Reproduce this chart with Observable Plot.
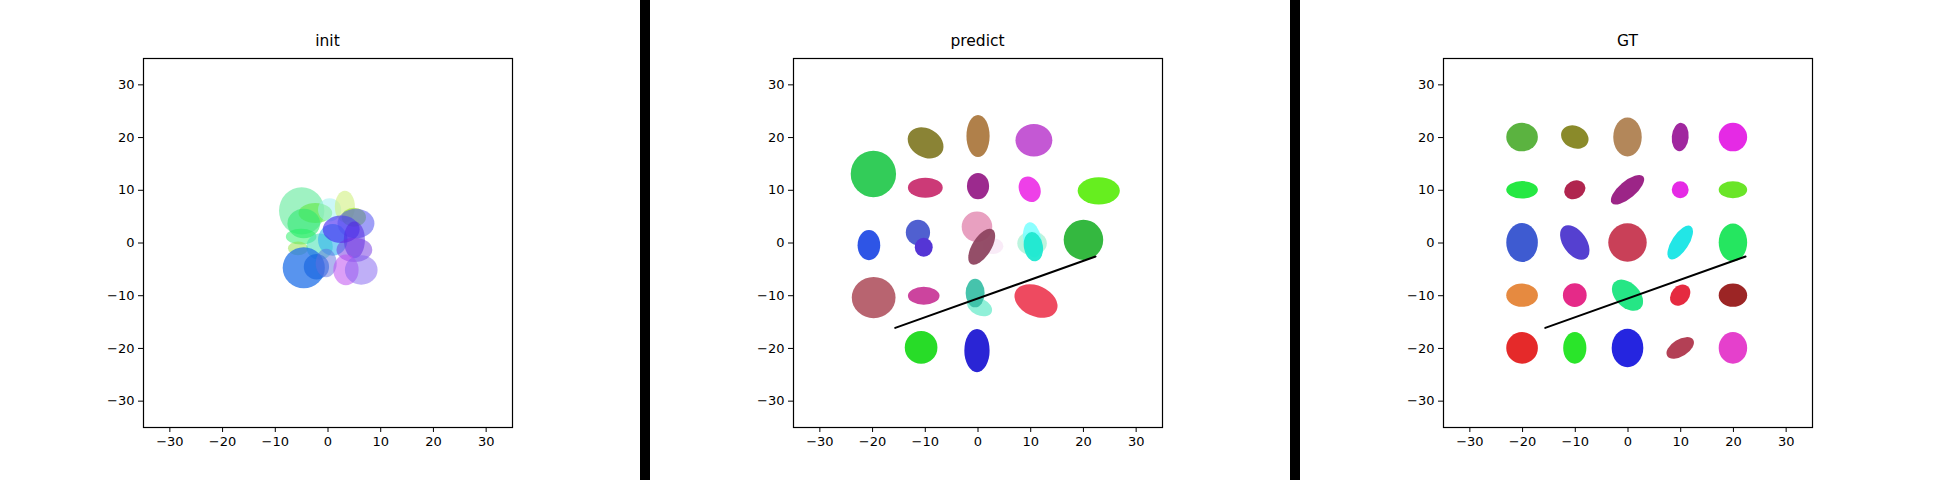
<!DOCTYPE html>
<html>
<head>
<meta charset="utf-8">
<script src="https://cdn.jsdelivr.net/npm/d3@7"></script>
<script src="https://cdn.jsdelivr.net/npm/@observablehq/plot@0.6"></script>
<style>
  body { margin: 0; background: #fff; }
  #wrap { position: relative; width: 1940px; height: 480px; font-family: "DejaVu Sans", sans-serif; }
  .panel { position: absolute; top: 0; }
  .sep { position: absolute; top: 0; width: 10px; height: 480px; background: #000; }
</style>
</head>
<body>
<div id="wrap"></div>
<script>
// ellipses: [x, y, rx, ry, angleDeg, color, opacity]
const initEllipses = [
  [-4.9, 6.0, 4.3, 4.5, 0, "#50e890", 0.55],
  [-2.3, 5.6, 3.2, 1.9, 0, "#60e840", 0.6],
  [0.4, 6.2, 2.2, 2.2, 0, "#a0f0f0", 0.55],
  [3.3, 6.8, 1.9, 3.0, 0, "#d0f080", 0.6],
  [5.0, 4.8, 2.3, 1.8, 0, "#a0e830", 0.7],
  [-4.5, 3.6, 3.1, 2.8, 0, "#30e870", 0.6],
  [-5.0, 1.1, 2.9, 1.5, 0, "#20f060", 0.5],
  [-5.6, -1.1, 1.9, 1.3, 0, "#90e040", 0.5],
  [-1.5, -0.8, 2.5, 2.5, 0, "#40e0b0", 0.55],
  [1.0, 0.5, 2.8, 3.0, 0, "#30b0f0", 0.6],
  [2.6, 2.5, 3.5, 2.6, 0, "#4020f0", 0.6],
  [5.4, 3.6, 3.5, 2.8, 0, "#5050f0", 0.55],
  [5.1, 0.5, 2.0, 3.5, 0, "#5020e0", 0.5],
  [5.1, -1.4, 3.4, 2.3, 0, "#7030e0", 0.5],
  [-4.5, -4.8, 4.0, 3.9, 0, "#2070e8", 0.75],
  [-2.1, -4.6, 2.4, 2.4, 0, "#1060e0", 0.6],
  [-0.25, -3.9, 2.0, 2.7, 0, "#6070e0", 0.5],
  [3.5, -5.2, 2.4, 2.9, 0, "#c050f0", 0.55],
  [6.4, -5.2, 3.1, 2.8, 0, "#8060f0", 0.5]
];

const predictEllipses = [
  [-19.75, 13.0, 4.3, 4.4, 0, "#33cc59", 1],
  [-9.85, 18.9, 3.6, 2.7, -30, "#8a8335", 1],
  [0.1, 20.2, 2.2, 4.0, 0, "#b0804a", 1],
  [10.7, 19.4, 3.5, 3.1, 0, "#c458d4", 1],
  [-9.9, 10.4, 3.3, 1.9, 0, "#cc3a77", 1],
  [0.1, 10.7, 2.1, 2.5, 0, "#9c2a8e", 1],
  [9.9, 10.1, 2.0, 2.5, 25, "#ee40e8", 1],
  [23.0, 9.8, 4.0, 2.6, 0, "#66ee1f", 1],
  [-20.6, -0.5, 2.15, 2.85, 0, "#2e55e6", 1],
  [-11.3, 1.9, 2.3, 2.4, 0, "#5060d0", 1],
  [-10.2, -0.9, 1.7, 1.8, 0, "#5535d5", 1],
  [-0.1, 3.0, 2.9, 2.9, 0, "#e8a0c0", 1],
  [2.9, -0.7, 2.0, 1.5, 0, "#e8b0e0", 0.25],
  [0.8, -0.8, 3.85, 1.8, 58, "#8e4460", 0.95],
  [10.35, -0.15, 2.8, 2.3, 0, "#a0f0d0", 0.7],
  [10.4, 0.5, 1.7, 3.4, 10, "#80ffff", 0.9],
  [10.6, -0.8, 1.8, 2.8, 10, "#1ee8d0", 0.95],
  [20.1, 0.5, 3.75, 3.8, 0, "#34b840", 1],
  [-19.7, -10.45, 4.15, 3.9, 0, "#b86470", 1],
  [-10.2, -10.1, 3.0, 1.7, 0, "#cc449e", 1],
  [0.4, -12.2, 2.5, 1.6, -25, "#90f0d8", 1],
  [-0.45, -9.6, 1.8, 2.7, 0, "#3cc0a8", 0.95],
  [11.1, -11.1, 4.3, 2.9, -25, "#ee4a60", 1],
  [-10.7, -19.9, 3.1, 3.1, 0, "#28dc28", 1],
  [-0.1, -20.5, 2.4, 4.1, 0, "#2a25d5", 1]
];

const gtEllipses = [
  [-20, 20, 3.0, 2.7, 0, "#5bb340", 1],
  [-10, 20, 2.7, 2.1, -25, "#8a8a2a", 1],
  [0, 20, 2.7, 3.7, 0, "#b3875a", 1],
  [10, 20, 1.6, 2.7, -5, "#a0279f", 1],
  [20, 20, 2.7, 2.7, 0, "#e52ae5", 1],
  [-20, 10, 3.0, 1.65, 0, "#25e842", 1],
  [-10, 10, 2.1, 1.7, 30, "#b0254f", 1],
  [0, 10, 3.9, 1.6, 40, "#9c2587", 1],
  [10, 10, 1.6, 1.6, 0, "#e52ae5", 1],
  [20, 10, 2.7, 1.6, 0, "#6ae528", 1],
  [-20, 0, 3.0, 3.7, 0, "#3e5bd1", 1],
  [-10, 0, 3.7, 2.2, -55, "#5540d0", 1],
  [0, 0, 3.65, 3.65, 0, "#c94058", 1],
  [10, 0, 3.7, 1.6, 57, "#22e6e6", 1],
  [20, 0, 2.7, 3.6, 0, "#25e660", 1],
  [-20, -10, 3.0, 2.2, 0, "#e68a40", 1],
  [-10, -10, 2.25, 2.25, 0, "#e52a88", 1],
  [0, -10, 3.5, 2.3, -45, "#25e685", 1],
  [10, -10, 2.2, 1.7, 50, "#e52a40", 1],
  [20, -10, 2.7, 2.2, 0, "#9c2525", 1],
  [-20, -20, 3.0, 3.0, 0, "#e52a2a", 1],
  [-10, -20, 2.2, 3.0, 0, "#2ae52a", 1],
  [0, -20, 3.0, 3.65, 0, "#2525e0", 1],
  [10, -20, 2.9, 1.6, 32, "#b34055", 1],
  [20, -20, 2.7, 3.0, 0, "#e540cc", 1]
];

const lineSeg = [{x: -15.7, y: -16.1}, {x: 22.3, y: -2.56}];
const ticks = [-30, -20, -10, 0, 10, 20, 30];
const panels = [
  {title: "init", ellipses: initEllipses, line: false},
  {title: "predict", ellipses: predictEllipses, line: true},
  {title: "GT", ellipses: gtEllipses, line: true}
];
const panelLeft = [0, 650, 1300];
const sepLeft = [640, 1290];

function ellipseMark(rows) {
  const data = rows.map(r => ({x: r[0], y: r[1], rx: r[2], ry: r[3], a: r[4], c: r[5], o: r[6]}));
  return Plot.dot(data, {
    x: "x", y: "y",
    render: (index, scales, values) => {
      const g = d3.create("svg:g");
      const kx = Math.abs(scales.x(1) - scales.x(0));
      const ky = Math.abs(scales.y(1) - scales.y(0));
      for (const i of index) {
        const d = data[i];
        g.append("ellipse")
          .attr("cx", 0).attr("cy", 0)
          .attr("rx", d.rx * kx).attr("ry", d.ry * ky)
          .attr("transform", `translate(${values.x[i]},${values.y[i]}) rotate(${-d.a})`)
          .attr("fill", d.c)
          .attr("fill-opacity", d.o);
      }
      return g.node();
    }
  });
}

const wrap = document.getElementById("wrap");
panels.forEach((p, k) => {
  const marks = [ellipseMark(p.ellipses)];
  if (p.line) marks.push(Plot.line(lineSeg, {x: "x", y: "y", stroke: "black", strokeWidth: 2}));
  marks.push(
    Plot.axisX({ticks, tickSize: 5, tickPadding: 4, fontSize: 13, label: null, tickFormat: d => d < 0 ? "\u2212" + (-d) : d}),
    Plot.axisY({ticks, tickSize: 5, tickPadding: 4, fontSize: 13, label: null, tickFormat: d => d < 0 ? "\u2212" + (-d) : d}),
    Plot.frame({stroke: "black", strokeWidth: 1.2})
  );
  const chart = Plot.plot({
    width: 640, height: 480,
    marginLeft: 143, marginRight: 128, marginTop: 58, marginBottom: 53,
    x: {domain: [-35, 35]},
    y: {domain: [-35, 35]},
    style: {fontFamily: "DejaVu Sans, sans-serif", fontSize: "13px", color: "#000", background: "transparent"},
    marks
  });
  const div = document.createElement("div");
  div.className = "panel";
  div.style.left = panelLeft[k] + "px";
  div.appendChild(chart);
  const t = document.createElement("div");
  t.textContent = p.title;
  t.style.cssText = "position:absolute;top:32px;left:143px;width:369px;text-align:center;font-size:15.5px;";
  div.appendChild(t);
  wrap.appendChild(div);
});
sepLeft.forEach(x => {
  const s = document.createElement("div");
  s.className = "sep";
  s.style.left = x + "px";
  wrap.appendChild(s);
});
</script>
</body>
</html>
